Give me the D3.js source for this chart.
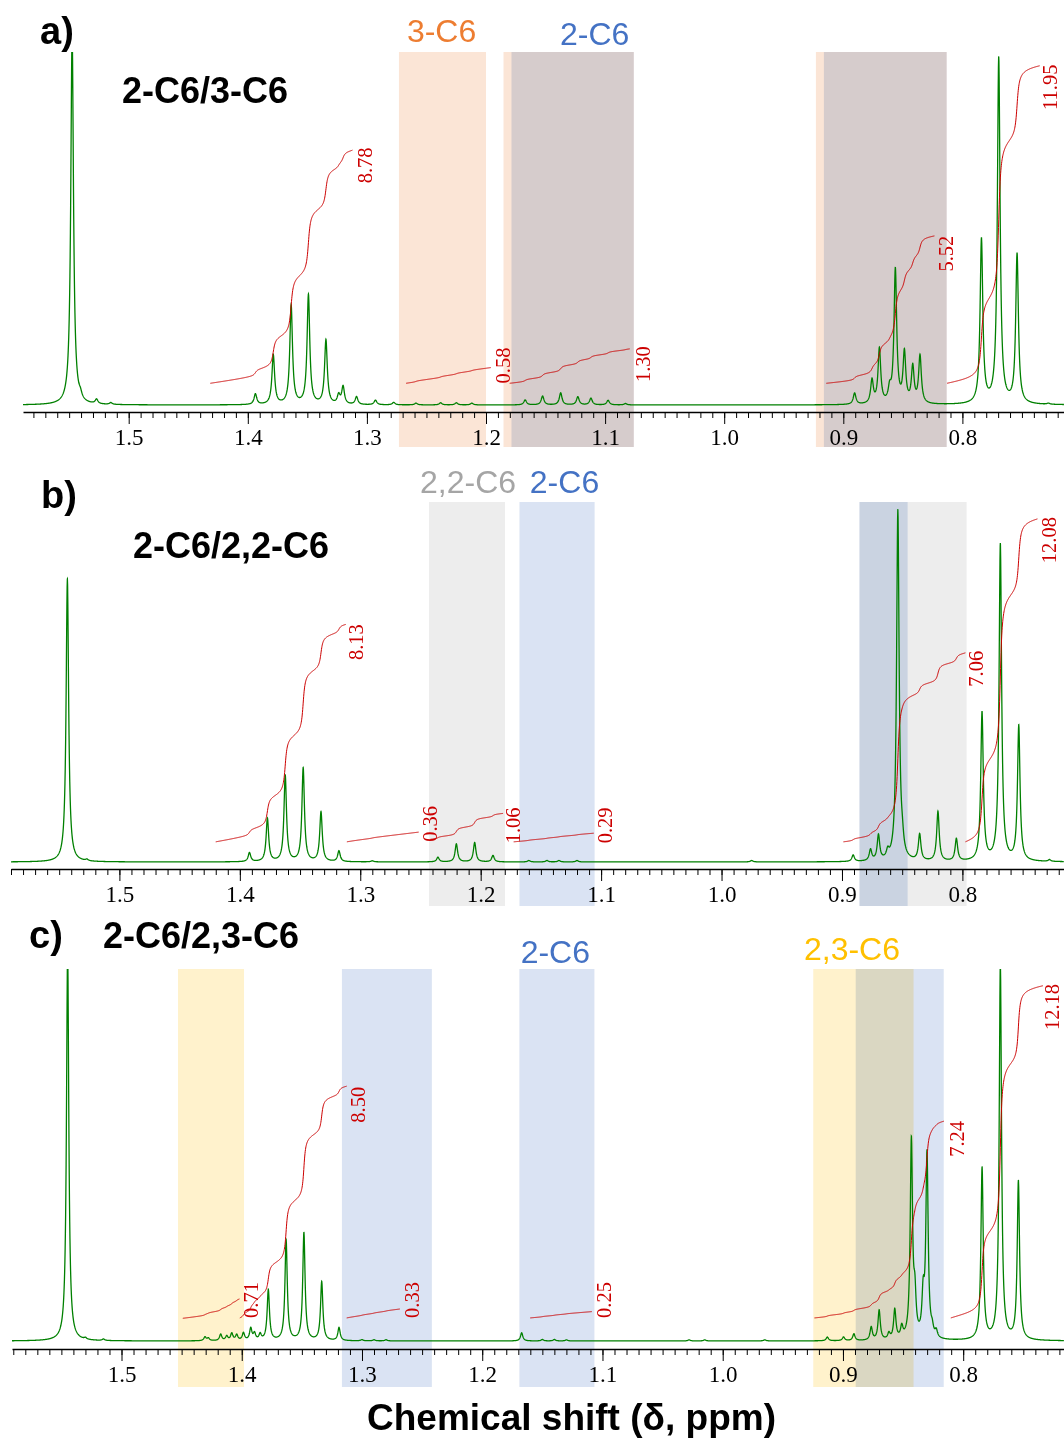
<!DOCTYPE html>
<html><head><meta charset="utf-8">
<script src="https://cdn.jsdelivr.net/npm/d3@7"></script>
<style>html,body{margin:0;padding:0;background:#fff;} svg{display:block;}</style>
</head><body>
<svg id="chart" width="1064" height="1438"></svg>
<script>
// ---------------- DATA ----------------
// peaks: [chemical shift (ppm), height (% of panel full scale)]
const peaksA = [
  [1.5475,105],[1.5405,1.2],[1.527,1.3],[1.515,0.5],
  [1.3936,3.0],[1.3786,14.0],[1.3636,28.0],[1.3491,31.0],[1.3344,18.2],[1.3237,2.5],[1.3200,5.0],[1.3087,2.2],[1.2928,1.3],[1.2775,0.7],
  [1.2588,0.5],[1.2381,0.6],[1.2249,0.6],[1.2119,0.5],
  [1.1671,1.4],[1.1525,2.5],[1.1373,3.4],[1.1229,2.3],[1.1119,1.9],[1.0975,1.3],[1.0829,0.4],
  [0.8905,3.2],[0.8759,6.6],[0.8697,15.5],[0.8611,3.5],[0.8563,38.0],[0.8487,14.2],[0.8417,10.2],[0.8356,13.5],
  [0.7840,46.5],[0.7695,98.0],[0.7541,42.3],[0.7278,0.3]
];
const peaksB = [
  [1.5432,78.6],[1.527,0.4],
  [1.392,2.5],[1.3771,12.0],[1.3623,24.0],[1.3474,26.0],[1.3326,13.8],[1.3177,3.0],[1.29,0.3],
  [1.2355,1.3],[1.2202,5.0],[1.2050,5.4],[1.1898,1.8],[1.160,0.4],[1.145,0.4],[1.135,0.4],[1.12,0.4],
  [0.975,0.4],
  [0.8907,1.8],[0.8763,3.1],[0.8697,7.0],[0.862,2.0],[0.8536,97.5],[0.8499,3.0],[0.8355,7.3],[0.8203,13.8],[0.805,6.2],
  [0.7837,41.2],[0.7685,88.0],[0.7532,37.5],[0.7277,0.5]
];
const peaksC = [
  [1.5448,105],[1.53,0.4],[1.515,0.4],
  [1.4306,1.0],[1.4278,0.7],[1.4175,1.7],[1.4125,1.2],[1.4083,1.9],[1.4042,1.5],[1.3986,2.0],[1.3925,3.2],[1.3894,1.8],[1.3847,1.6],
  [1.3779,13.6],[1.3631,27.0],[1.3483,29.0],[1.3335,15.8],[1.3191,3.5],
  [1.30,0.3],[1.29,0.3],[1.28,0.3],
  [1.1672,2.2],[1.15,0.4],[1.14,0.4],[1.13,0.3],
  [1.028,0.3],[1.015,0.3],[0.965,0.3],
  [0.913,1.0],[0.8995,1.0],[0.8909,1.8],[0.8765,3.5],[0.8699,8.0],[0.8618,1.6],[0.8569,8.0],[0.8511,3.0],[0.8431,53.0],[0.8402,10.0],[0.8333,10.5],[0.8301,49.5],[0.8258,2.0],[0.8224,1.8],
  [0.7843,46.2],[0.7691,101],[0.7541,42.6]
];

// integrals: ppm range, start/end level (%), value, label anchor (ppm, level %)
const integralsA = [
  {from:1.4315,to:1.3121,y0:6.15,y1:72.2,value:"8.78",lx:1.2957,ly:62.8},
  {from:1.2671,to:1.1959,y0:6.15,y1:10.6,value:"0.58",lx:1.1799,ly:6.1},
  {from:1.1801,to:1.0793,y0:6.15,y1:15.9,value:"1.30",lx:1.0624,ly:6.5},
  {from:0.9143,to:0.8235,y0:6.15,y1:47.9,value:"5.52",lx:0.8080,ly:37.8},
  {from:0.8129,to:0.7351,y0:6.15,y1:96.1,value:"11.95",lx:0.7205,ly:83.6}
];
const integralsB = [
  {from:1.4200,to:1.3120,y0:5.6,y1:66.0,value:"8.13",lx:1.2975,ly:56.1},
  {from:1.3111,to:1.2515,y0:5.6,y1:8.3,value:"0.36",lx:1.2365,ly:5.6},
  {from:1.2418,to:1.1814,y0:6.3,y1:13.5,value:"1.06",lx:1.1674,ly:5.2},
  {from:1.1726,to:1.1061,y0:5.6,y1:8.0,value:"0.29",lx:1.0912,ly:5.2},
  {from:0.8988,to:0.7975,y0:5.6,y1:58.1,value:"7.06",lx:0.7827,ly:48.7},
  {from:0.7975,to:0.7377,y0:5.6,y1:95.3,value:"12.08",lx:0.7223,ly:83.0}
];
const integralsC = [
  {from:1.4490,to:1.4019,y0:6.1,y1:11.3,value:"0.71",lx:1.3863,ly:6.2},
  {from:1.4016,to:1.3127,y0:6.2,y1:68.5,value:"8.50",lx:1.2976,ly:58.7},
  {from:1.3127,to:1.2685,y0:6.2,y1:8.6,value:"0.33",lx:1.2523,ly:6.2},
  {from:1.1601,to:1.1088,y0:6.2,y1:7.9,value:"0.25",lx:1.0930,ly:6.2},
  {from:0.9237,to:0.8160,y0:6.2,y1:59.1,value:"7.24",lx:0.7996,ly:49.5},
  {from:0.8103,to:0.7337,y0:6.2,y1:95.5,value:"12.18",lx:0.7200,ly:83.6}
];

// highlighted regions: [from ppm, to ppm, isomer]
const bandsA = [[1.2731,1.2000,"3-C6"],[1.1853,1.0759,"3-C6"],[1.1786,1.0759,"2-C6"],[0.9230,0.8132,"3-C6"],[0.9163,0.8132,"2-C6"]];
const bandsB = [[1.2429,1.1798,"2,2-C6"],[1.1678,1.1054,"2-C6"],[0.8855,0.7965,"2,2-C6"],[0.8855,0.8455,"2-C6"]];
const bandsC = [[1.4530,1.3981,"2,3-C6"],[1.3167,1.2419,"2-C6"],[1.1691,1.1067,"2-C6"],[0.9247,0.8413,"2,3-C6"],[0.8894,0.8162,"2-C6"]];

// region labels: [ppm, isomer]
const bandLabelsA = [[1.2373,"3-C6"],[1.1088,"2-C6"]];
const bandLabelsB = [[1.2105,"2,2-C6"],[1.1304,"2-C6"]];
const bandLabelsC = [[1.1392,"2-C6"],[0.8925,"2,3-C6"]];

const panelTitles = ["a)","b)","c)"];
const panelMixtures = ["2-C6/3-C6","2-C6/2,2-C6","2-C6/2,3-C6"];
const majorTickStep = 0.1, minorTickStep = 0.01;
const xAxisTitle = "Chemical shift (\u03b4, ppm)";

// ---------------- STYLE / LAYOUT ----------------
const isomerFill = {"3-C6":"#fbe5d6","2-C6":"#dae3f3","2,2-C6":"#ededed","2,3-C6":"#fff2cc"};
const isomerText = {"3-C6":"#ed7d31","2-C6":"#4472c4","2,2-C6":"#a5a5a5","2,3-C6":"#ffc000"};
const layouts = [
  {p15:128.7,p08:962.4,axisLeft:23,axisY:412,baseY:405,topY:52,bandBottom:447,titleX:40,titleY:44,subX:122,subY:103,labY:[42,45],gamma:0.00135},
  {p15:119.4,p08:962.4,axisLeft:11,axisY:869,baseY:862,topY:502,bandBottom:906,titleX:41,titleY:508,subX:133,subY:558,labY:[493,493],gamma:0.00125},
  {p15:121.5,p08:963.2,axisLeft:12,axisY:1349,baseY:1341,topY:969,bandBottom:1387,titleX:29,titleY:948,subX:103,subY:948,labY:[963,960],gamma:0.00115}
];
const panelData = [
  {peaks:peaksA,integrals:integralsA,bands:bandsA,bandLabels:bandLabelsA},
  {peaks:peaksB,integrals:integralsB,bands:bandsB,bandLabels:bandLabelsB},
  {peaks:peaksC,integrals:integralsC,bands:bandsC,bandLabels:bandLabelsC}
];
const W = 1064;
const svg = d3.select("#chart");
svg.append("rect").attr("width",1064).attr("height",1438).attr("fill","#fff");

function lorentzSum(peaks, gamma){
  return ppm => {
    let s = 0;
    for (const [p,h] of peaks){ const d=(ppm-p)/gamma; s += h/(1+d*d); }
    return s;
  };
}

panelData.forEach((pd, i) => {
  const L = layouts[i];
  const calib = d3.scaleLinear().domain([1.5,0.8]).range([L.p15,L.p08]);
  const dL = calib.invert(L.axisLeft), dR = calib.invert(W);
  const x = d3.scaleLinear().domain([dL,dR]).range([L.axisLeft,W]);
  const y = d3.scaleLinear().domain([0,100]).range([L.baseY,L.topY]);
  const g = svg.append("g");
  const f = lorentzSum(pd.peaks, L.gamma);

  // bands
  const bg = g.append("g").style("isolation","isolate");
  bg.selectAll("rect").data(pd.bands).join("rect")
    .attr("x", d => x(d[0])).attr("width", d => x(d[1]) - x(d[0]))
    .attr("y", L.topY).attr("height", L.bandBottom - L.topY)
    .attr("fill", d => isomerFill[d[2]])
    .style("mix-blend-mode","multiply");

  // band labels
  g.selectAll("text.bl").data(pd.bandLabels).join("text").attr("class","bl")
    .attr("x", d => x(d[0])).attr("y", (d,k) => L.labY[k])
    .attr("text-anchor","middle")
    .attr("font-family","'Liberation Sans', Arial, sans-serif").attr("font-size",32)
    .attr("fill", d => isomerText[d[1]]).text(d => d[1]);

  // axis
  const minor = d3.range(Math.ceil(dR/minorTickStep - 1e-6), Math.floor(dL/minorTickStep + 1e-6) + 1).map(k => +(k*minorTickStep).toFixed(2));
  const major = minor.filter(v => Math.abs(v/majorTickStep - Math.round(v/majorTickStep)) < 1e-6);
  const ax = g.append("g").attr("transform",`translate(0,${L.axisY})`);
  ax.append("g").call(d3.axisBottom(x).tickValues(minor).tickSize(6).tickSizeOuter(0).tickFormat(""))
    .call(s => s.select(".domain").attr("stroke-width",1.3));
  ax.append("g").call(d3.axisBottom(x).tickValues(major).tickSize(12).tickSizeOuter(0).tickPadding(5).tickFormat(d3.format(".1f")))
    .call(s => s.select(".domain").remove())
    .call(s => s.selectAll("text").attr("font-family","'Liberation Serif', 'Times New Roman', serif").attr("font-size",23).attr("fill","#000"));

  // spectrum
  const clipId = "clip"+i;
  svg.append("clipPath").attr("id",clipId).append("rect")
    .attr("x",L.axisLeft).attr("y",L.topY).attr("width",W-L.axisLeft).attr("height",L.axisY-L.topY);
  const samples = d3.range(dL, dR, -0.0002).concat(pd.peaks.map(p => p[0])).filter(v => v<=dL && v>=dR).sort((a,b)=>b-a);
  const spec = samples.map(v => [v, f(v)]);
  g.append("path").datum(spec).attr("clip-path",`url(#${clipId})`)
    .attr("fill","none").attr("stroke","#008000").attr("stroke-width",1.3)
    .attr("d", d3.line().x(d => x(d[0])).y(d => y(d[1])));

  // integrals
  const drift = 0.3;
  pd.integrals.forEach(it => {
    const xs = d3.range(it.from, it.to, -0.0002).concat([it.to]);
    let cum = 0; const c = [0];
    for (let k=1;k<xs.length;k++){
      const dx = xs[k-1]-xs[k];
      cum += ((f(xs[k-1])+f(xs[k]))/2 + drift)*dx; c.push(cum);
    }
    const pts = xs.map((v,k) => [v, it.y0 + (it.y1-it.y0)*c[k]/cum]);
    g.append("path").datum(pts).attr("fill","none").attr("stroke","#cc0000").attr("stroke-width",1)
      .attr("d", d3.line().x(d => x(d[0])).y(d => y(d[1])));
    g.append("text").attr("transform",`translate(${x(it.lx)},${y(it.ly)}) rotate(-90)`)
      .attr("font-family","'Liberation Serif', 'Times New Roman', serif").attr("font-size",20.5)
      .attr("fill","#cc0000").text(it.value);
  });

  // titles
  g.append("text").attr("x",L.titleX).attr("y",L.titleY)
    .attr("font-family","'Liberation Sans', Arial, sans-serif").attr("font-weight","bold").attr("font-size",38)
    .text(panelTitles[i]);
  g.append("text").attr("x",L.subX).attr("y",L.subY)
    .attr("font-family","'Liberation Sans', Arial, sans-serif").attr("font-weight","bold").attr("font-size",36)
    .text(panelMixtures[i]);
});

svg.append("text").attr("x",571.5).attr("y",1430).attr("text-anchor","middle")
  .attr("font-family","'Liberation Sans', Arial, sans-serif").attr("font-weight","bold").attr("font-size",37)
  .text(xAxisTitle);
</script>
</body></html>
